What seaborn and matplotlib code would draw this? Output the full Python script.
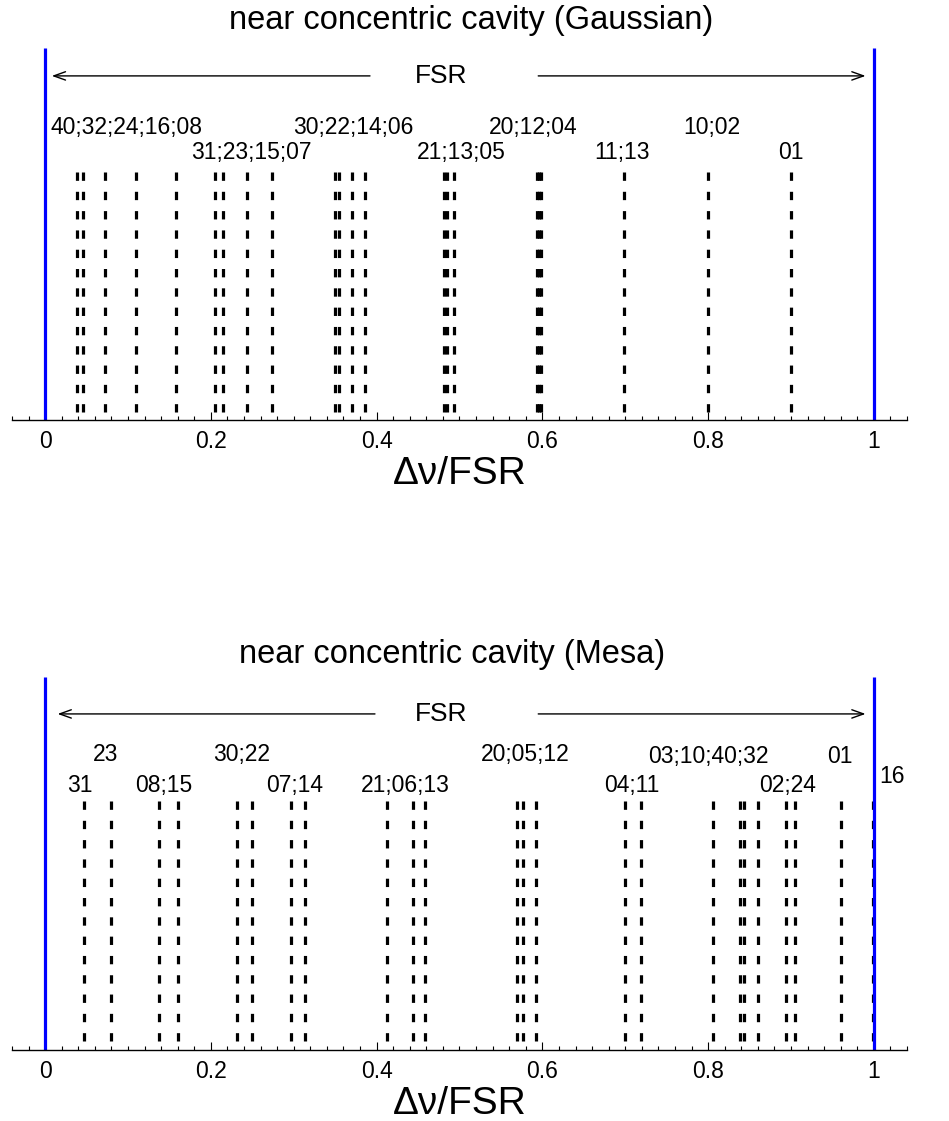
import matplotlib
matplotlib.use("Agg")
import matplotlib.pyplot as plt
from matplotlib.ticker import FixedLocator, FixedFormatter, MultipleLocator
import seaborn as sns

# ---------------- data ----------------
gauss_positions = [0.039, 0.046, 0.072, 0.110, 0.158, 0.205, 0.215, 0.244, 0.274,
                   0.350, 0.354, 0.370, 0.386, 0.481, 0.485, 0.493,
                   0.593, 0.596, 0.598, 0.698, 0.800, 0.900]
gauss_labels = ["40;32;24;16;08", "31;23;15;07", "30;22;14;06", "21;13;05",
                "20;12;04", "11;13", "10;02", "01"]
gauss_label_x = [0.006, 0.176, 0.299, 0.448, 0.536, 0.663, 0.770, 0.884]
gauss_label_y = [0.785, 0.718, 0.785, 0.718, 0.785, 0.718, 0.785, 0.718]

mesa_positions = [0.047, 0.080, 0.137, 0.160, 0.232, 0.250, 0.297, 0.314,
                  0.413, 0.444, 0.458, 0.569, 0.577, 0.592, 0.700, 0.719,
                  0.806, 0.839, 0.843, 0.860, 0.894, 0.905, 0.960, 0.999]
mesa_labels = ["31", "23", "08;15", "30;22", "07;14", "21;06;13", "20;05;12",
               "04;11", "03;10;40;32", "02;24", "01", "16"]
mesa_label_x = [0.027, 0.058, 0.108, 0.203, 0.267, 0.381, 0.526, 0.674,
                0.728, 0.861, 0.944, 1.007]
mesa_label_y = [0.708, 0.791, 0.708, 0.791, 0.708, 0.708, 0.791, 0.708,
                0.786, 0.708, 0.786, 0.732]

tick_values = [0, 0.2, 0.4, 0.6, 0.8, 1.0]
tick_labels = ["0", "0.2", "0.4", "0.6", "0.8", "1"]
fsr_bounds = [0.0, 1.0]

# ---------------- style ----------------
sns.set_theme(style="white")
plt.rcParams["font.family"] = ["Liberation Sans", "DejaVu Sans"]
plt.rcParams["lines.scale_dashes"] = False
plt.rcParams["text.color"] = "black"
plt.rcParams["axes.labelcolor"] = "black"
plt.rcParams["xtick.color"] = "black"

fig = plt.figure(figsize=(9.49, 11.21), dpi=100)
W, H = 949.0, 1121.0
ax_top = fig.add_axes([12 / W, (H - 420) / H, 895 / W, 372 / H])
ax_bot = fig.add_axes([12 / W, (H - 1050) / H, 895 / W, 373 / H])


def draw_panel(ax, positions, labels, lx, ly, title, title_xy, arrow_y,
               left_head, left_tail, right_tail, right_head):
    ax.set_xlim(-0.04, 1.04)
    ax.set_ylim(0, 1)
    # mode lines (dashed, drawn from top down)
    ax.vlines(positions, ymin=0.667, ymax=0.0, colors="black",
              linewidth=2.3, linestyles=[(0, (6.0, 7.9))])
    # FSR boundaries
    ax.vlines(fsr_bounds, ymin=0, ymax=1, colors="#0000ff", linewidth=2.3)
    # labels
    for t, x, y in zip(labels, lx, ly):
        ax.text(x, y, t, fontsize=16.5, ha="left", va="center", color="black")
    # FSR text and arrows
    ax.text(0.478, arrow_y, "FSR", fontsize=19, ha="center", va="center",
            color="black")
    ax.annotate("", xy=(left_head, arrow_y), xytext=(left_tail, arrow_y),
                arrowprops=dict(arrowstyle="->,head_length=0.7,head_width=0.25",
                                lw=1.0, color="black", shrinkA=0, shrinkB=0))
    ax.annotate("", xy=(right_head, arrow_y), xytext=(right_tail, arrow_y),
                arrowprops=dict(arrowstyle="->,head_length=0.7,head_width=0.25",
                                lw=1.0, color="black", shrinkA=0, shrinkB=0))
    ax.text(title_xy[0], title_xy[1], title, fontsize=23.5, ha="center",
            va="center", color="black", transform=ax.transAxes)
    # axes styling
    for side in ["top", "right", "left"]:
        ax.spines[side].set_visible(False)
    ax.spines["bottom"].set_color("black")
    ax.spines["bottom"].set_linewidth(1.0)
    ax.yaxis.set_visible(False)
    ax.xaxis.set_major_locator(FixedLocator(tick_values))
    ax.xaxis.set_major_formatter(FixedFormatter(tick_labels))
    ax.xaxis.set_minor_locator(MultipleLocator(0.02))
    ax.tick_params(axis="x", which="major", direction="in", length=6, width=0.8,
                   colors="black", labelsize=16.5, pad=7, bottom=True)
    ax.tick_params(axis="x", which="minor", direction="in", length=3, width=0.8,
                   colors="black", bottom=True)
    ax.set_xlabel("Δν/FSR", fontsize=28, labelpad=2, color="black")
    ax.set_facecolor("white")


draw_panel(ax_top, gauss_positions, gauss_labels, gauss_label_x, gauss_label_y,
           "near concentric cavity (Gaussian)", (0.513, 1.075), 0.925,
           0.008, 0.392, 0.595, 0.990)
draw_panel(ax_bot, mesa_positions, mesa_labels, mesa_label_x, mesa_label_y,
           "near concentric cavity (Mesa)", (0.4916, 1.059), 0.901,
           0.015, 0.398, 0.595, 0.990)

fig.savefig("out.png", dpi=100, facecolor="white")
